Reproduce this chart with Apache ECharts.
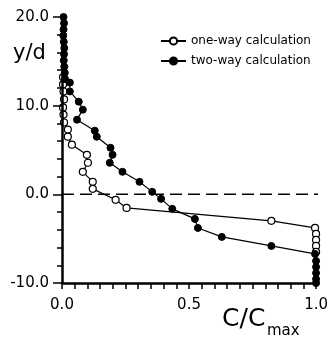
<!DOCTYPE html>
<html>
<head>
<meta charset="utf-8">
<script src="https://cdn.jsdelivr.net/npm/echarts@6/dist/echarts.min.js"></script>
<style>
  html, body { margin: 0; padding: 0; background: #fff; }
  #chart { width: 331px; height: 337px; }
</style>
</head>
<body>
<div id="chart"></div>
<script>
// one-way calculation (open circles): C/Cmax and y/d
const oneWayC = [0.004, 0.004, 0.006, 0.008, 0.004, 0.006, 0.008, 0.023, 0.023, 0.039,
  0.098, 0.102, 0.082, 0.121, 0.121, 0.211, 0.254, 0.824, 0.996, 1.0, 1.0, 1.0, 1.0];
const oneWayY = [13.2, 12.4, 11.6, 10.7, 9.8, 9.0, 8.1, 7.3, 6.5, 5.6,
  4.46, 3.56, 2.54, 1.41, 0.62, -0.62, -1.53, -2.99, -3.79, -4.46, -5.14, -5.82, -6.5];

// two-way calculation (filled circles)
const twoWayC = [0.006, 0.008, 0.006, 0.005, 0.007, 0.009, 0.008, 0.007, 0.009, 0.011, 0.012,
  0.031, 0.031, 0.066, 0.082, 0.059, 0.129, 0.137, 0.191, 0.199, 0.188, 0.238, 0.305, 0.355,
  0.39, 0.434, 0.523, 0.535, 0.629, 0.824, 0.996, 1.0, 1.0, 1.0, 1.0, 1.0];
const twoWayY = [20.0, 19.3, 18.6, 17.9, 17.2, 16.5, 15.8, 15.1, 14.4, 13.7, 13.0,
  12.6, 11.6, 10.45, 9.55, 8.42, 7.18, 6.5, 5.25, 4.46, 3.56, 2.54, 1.41, 0.28,
  -0.51, -1.64, -2.77, -3.79, -4.8, -5.82, -6.72, -7.51, -8.19, -8.87, -9.55, -10.0];

// dashed reference line y/d = 0
const zeroLineC = [0, 1.015];
const zeroLineY = [0, 0];

const yTicks = [-10, 0, 10, 20];
const xTicks = [0, 0.5, 1.0];

const font = 'DejaVu Sans';
const pairs = (xs, ys) => xs.map((x, i) => [x, ys[i]]);
const isTick = (list, v) => list.some(t => Math.abs(t - v) < 1e-6);

const myChart = echarts.init(document.getElementById('chart'));

myChart.setOption({
  backgroundColor: '#fff',
  animation: false,
  grid: { left: 62, right: 13, top: 17, bottom: 54 },
  legend: {
    orient: 'vertical',
    left: 155,
    top: 30,
    itemWidth: 25,
    itemHeight: 9,
    itemGap: 8,
    textStyle: { color: '#000', fontFamily: font, fontSize: 12 },
    data: ['one-way calculation', 'two-way calculation']
  },
  xAxis: {
    type: 'value',
    min: 0,
    max: 1,
    interval: 0.05, // small ticks every 0.05, labels only at 0, 0.5, 1
    z: 5,
    splitLine: { show: false },
    axisLine: { show: true, onZero: false, lineStyle: { color: '#000', width: 2.5 } },
    axisTick: { show: true, length: 6, lineStyle: { color: '#000', width: 1.5 } },
    axisLabel: {
      color: '#000', fontFamily: font, fontSize: 15, margin: 15,
      formatter: v => isTick(xTicks, v) ? v.toFixed(1) : ''
    }
  },
  yAxis: {
    type: 'value',
    min: -10,
    max: 20,
    interval: 10,
    z: 5,
    splitLine: { show: false },
    axisLine: { show: true, onZero: false, lineStyle: { color: '#000', width: 2.5 } },
    axisTick: { show: true, length: 9, lineStyle: { color: '#000', width: 1.5 } },
    minorTick: { show: true, splitNumber: 5, length: 5, lineStyle: { color: '#000', width: 1.5 } },
    axisLabel: {
      color: '#000', fontFamily: font, fontSize: 15, margin: 13,
      formatter: v => isTick(yTicks, v) ? v.toFixed(1) : ''
    }
  },
  graphic: [
    { type: 'text', left: 13, top: 43, style: { text: 'y/d', font: '21px ' + font, fill: '#000' } },
    { type: 'text', left: 222, top: 307, style: { text: 'C/C', font: '25px ' + font, fill: '#000' } },
    { type: 'text', left: 267, top: 324, style: { text: 'max', font: '15px ' + font, fill: '#000' } }
  ],
  series: [
    {
      name: 'zero',
      type: 'line',
      data: pairs(zeroLineC, zeroLineY),
      symbol: 'none',
      silent: true,
      clip: false,
      lineStyle: { color: '#000', width: 1.5, type: [12, 6] }
    },
    {
      name: 'one-way calculation',
      type: 'line',
      data: pairs(oneWayC, oneWayY),
      symbol: 'circle',
      symbolSize: 7,
      lineStyle: { color: '#000', width: 1.2 },
      itemStyle: { color: '#fff', borderColor: '#000', borderWidth: 1.2 }
    },
    {
      name: 'two-way calculation',
      type: 'line',
      data: pairs(twoWayC, twoWayY),
      symbol: 'circle',
      symbolSize: 7,
      lineStyle: { color: '#000', width: 1.2 },
      itemStyle: { color: '#000', borderColor: '#000', borderWidth: 1 }
    }
  ]
});
</script>
</body>
</html>
